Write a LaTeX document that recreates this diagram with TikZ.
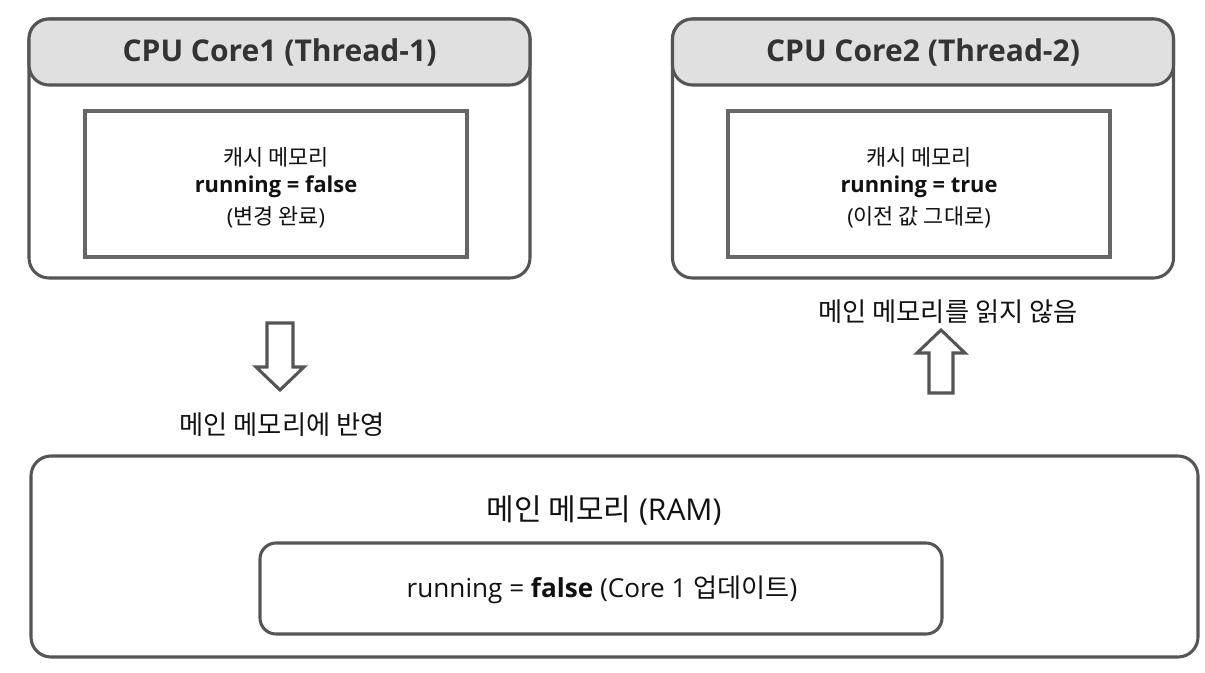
\documentclass[tikz,border=0pt]{standalone}
\usepackage{fontspec}
\setmainfont{Open Sans}
\newfontfamily\kr{Noto Sans CJK KR}
\definecolor{edge}{HTML}{555555}
\definecolor{inedge}{HTML}{666666}
\definecolor{headfill}{HTML}{E0E0E0}
\definecolor{titletxt}{HTML}{333333}
\definecolor{txt}{HTML}{111111}
\begin{document}
\begin{tikzpicture}[x=0.75pt,y=-0.75pt,
  corebox/.style={draw=edge, line width=2.3pt, rounded corners=15pt, fill=white,
    minimum width=375.75pt, minimum height=194.25pt, inner sep=0pt},
  headbox/.style={draw=edge, line width=2.3pt, rounded corners=15pt, fill=headfill,
    minimum width=375.75pt, minimum height=49.5pt, inner sep=0pt,
    font=\fontsize{22.5}{26}\selectfont\bfseries, text=titletxt},
  cachebox/.style={draw=inedge, line width=2.3pt, fill=white,
    minimum width=286.5pt, minimum height=109.5pt, inner sep=0pt},
  bodytxt/.style={font=\fontsize{16.4}{19}\selectfont, text=txt, inner sep=0pt},
  bodybold/.style={font=\fontsize{16.4}{19}\selectfont\bfseries, text=txt, inner sep=0pt},
  labeltxt/.style={font=\fontsize{19.7}{23}\selectfont, text=txt, inner sep=0pt},
  bigarrow/.style={draw=edge, line width=2.3pt, fill=white, line join=miter},
  membox/.style={draw=edge, line width=2.3pt, rounded corners=15pt, fill=white,
    minimum width=875.25pt, minimum height=150.75pt, inner sep=0pt},
  valbox/.style={draw=edge, line width=2.3pt, rounded corners=12pt, fill=white,
    minimum width=511.5pt, minimum height=68.25pt, inner sep=0pt}
]
\useasboundingbox (0,0) rectangle (1205,673);

% Core 1
\node[corebox] (core1) at (279.5,148.5) {};
\node[headbox] (head1) at (279.5,52) {CPU Core1 (Thread-1)};
\node[cachebox] (cache1) at (276,184) {};
\node[bodytxt] (c1a) at (276,157) {\kr 캐시 메모리};
\node[bodybold] (c1b) at (276,187) {running = false};
\node[bodytxt] (c1c) at (276,217) {({\kr 변경 완료})};

% Core 2
\node[corebox] (core2) at (923,148.5) {};
\node[headbox] (head2) at (923,52) {CPU Core2 (Thread-2)};
\node[cachebox] (cache2) at (919,184) {};
\node[bodytxt] (c2a) at (919,157) {\kr 캐시 메모리};
\node[bodybold] (c2b) at (919,187) {running = true};
\node[bodytxt] (c2c) at (919,217) {({\kr 이전 값 그대로})};

% Down arrow
\coordinate (da) at (280,323);
\draw[bigarrow] (da) ++(-13,0) -- ++(0,44) -- ++(-11,0) -- (280,390) -- (304,367) -- ++(-11,0) -- ++(0,-44) -- cycle;
\node[labeltxt] (lbl1) at (282,425) {\kr 메인 메모리에 반영};

% Up arrow
\coordinate (ua) at (941,393);
\draw[bigarrow] (ua) ++(-12,0) -- ++(0,-40) -- ++(-12,0) -- (941,330) -- (965,353) -- ++(-12,0) -- ++(0,40) -- cycle;
\node[labeltxt] (lbl2) at (948,312) {\kr 메인 메모리를 읽지 않음};

% Main memory
\node[membox] (mem) at (614.5,556.5) {};
\node[font=\fontsize{22.5}{26}\selectfont, text=txt, inner sep=0pt] (memt) at (604,510) {{\kr 메인 메모리} (RAM)};
\node[valbox] (val) at (601,588.5) {};
\node[font=\fontsize{19.6}{23}\selectfont, text=txt, inner sep=0pt] (valt) at (602,590) {running = \textbf{false} (Core 1 {\kr 업데이트})};
\end{tikzpicture}
\end{document}
